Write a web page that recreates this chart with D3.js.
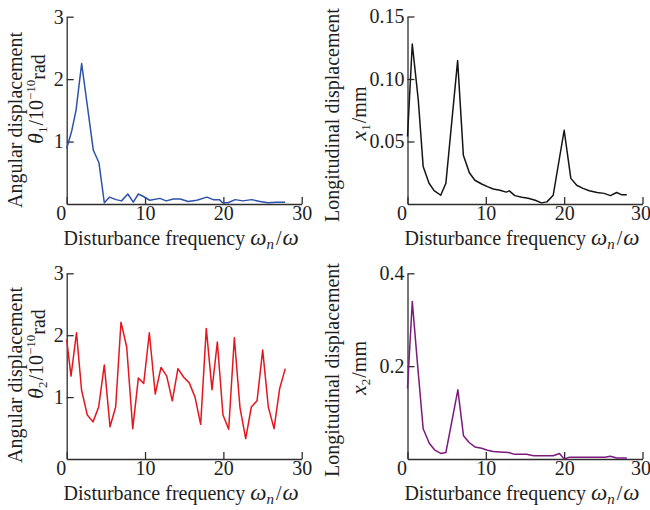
<!DOCTYPE html>
<html>
<head>
<meta charset="utf-8">
<script src="https://cdn.jsdelivr.net/npm/d3@7"></script>
<style>
  body { margin: 0; background: #fff; }
  text { font-family: "Liberation Serif", "Times New Roman", serif; }
</style>
</head>
<body>
<svg id="canvas" width="650" height="510"></svg>
<script>
"use strict";

// --- data (x = disturbance frequency ratio) ---
const theta1Freq = [0, 0.64, 1.19, 1.91, 3.4, 4.12, 4.8, 5.45, 6.3, 7.0, 7.8, 8.5, 9.15, 9.8, 10.6, 11.9, 12.7,
  13.6, 14.5, 15.5, 16.6, 17.9, 18.7, 19.5, 19.9, 20.6, 21.5, 22.5, 23.6, 24.7, 25.7, 26.8, 27.9];
const theta1Vals = [0.89, 1.17, 1.5, 2.25, 0.86, 0.66, 0.02, 0.11, 0.07, 0.05, 0.16, 0.03, 0.16, 0.12, 0.06, 0.09, 0.05,
  0.08, 0.08, 0.04, 0.06, 0.11, 0.07, 0.07, 0.02, 0.02, 0.07, 0.05, 0.07, 0.04, 0.02, 0.03, 0.03];

const x1Freq = [0, 0.61, 1.38, 2.0, 2.75, 3.4, 4.24, 4.9, 6.4, 7.13, 7.9, 8.6, 9.47, 10.2, 10.95, 11.8, 12.6, 13.0,
  13.7, 14.6, 15.4, 16.3, 17.1, 17.8, 18.6, 20.0, 20.85, 21.6, 22.4, 23.2, 24.2, 25.1, 25.9, 26.7, 27.3, 28.0];
const x1Vals = [0.054, 0.128, 0.083, 0.030, 0.0166, 0.0107, 0.007, 0.0166, 0.1147, 0.039, 0.025, 0.019, 0.016, 0.0139,
  0.012, 0.011, 0.0095, 0.0105, 0.0067, 0.0054, 0.0046, 0.003, 0.0009, 0.0017, 0.007, 0.059, 0.0205, 0.015, 0.0125,
  0.0106, 0.0092, 0.0085, 0.0067, 0.0092, 0.0075, 0.0075];

const theta2Freq = [0, 0.55, 1.25, 1.9, 2.63, 3.36, 4.08, 4.8, 5.53, 6.25, 6.93, 7.66, 8.43, 9.15, 9.83, 10.55, 11.3,
  12.04, 12.77, 13.48, 14.2, 14.94, 15.65, 16.38, 17.1, 17.82, 18.55, 19.23, 19.95, 20.68, 21.4, 22.12, 22.85, 23.57,
  24.3, 25.02, 25.74, 26.47, 27.19, 27.9];
const theta2Vals = [1.93, 1.34, 2.04, 1.11, 0.71, 0.60, 0.84, 1.52, 0.52, 0.84, 2.21, 1.81, 0.49, 1.31, 1.22, 2.04, 1.05,
  1.48, 1.34, 0.94, 1.46, 1.32, 1.23, 1.0, 0.56, 2.11, 1.12, 1.89, 0.71, 0.48, 1.96, 0.83, 0.33, 0.84,
  0.94, 1.76, 0.84, 0.49, 1.14, 1.46];

const x2Freq = [0, 0.61, 1.3, 2.0, 2.78, 3.5, 4.24, 4.9, 6.43, 7.15, 7.9, 8.6, 9.47, 10.2, 10.95, 11.8, 12.9, 13.7,
  15.2, 16.1, 17.4, 18.6, 19.4, 20.0, 20.7, 22.0, 23.7, 25.2, 25.9, 26.7, 28.0];
const x2Vals = [0.152, 0.339, 0.2, 0.065, 0.034, 0.019, 0.012, 0.014, 0.149, 0.05, 0.035, 0.026, 0.023, 0.019, 0.016,
  0.015, 0.014, 0.010, 0.010, 0.007, 0.007, 0.007, 0.012, 0, 0.004, 0.004, 0.004, 0.004, 0.006, 0.002, 0.002];

const xTicks = [0, 10, 20, 30];
const theta1Ticks = [1, 2, 3];
const x1Ticks = [0.05, 0.10, 0.15];
const theta2Ticks = [1, 2, 3];
const x2Ticks = [0.2, 0.4];

const panels = [
  { left: 66.7, top: 16.7, height: 187.3, yMax: 3, ticks: theta1Ticks, fmt: d3.format("d"),
    freq: theta1Freq, vals: theta1Vals, color: "#2d52ac", kind: "theta", sub: "1",
    l1: { x: 21.5, y: 120 }, l2: { x: 43, y: 99 } },
  { left: 407.5, top: 16.5, height: 187.5, yMax: 0.15, ticks: x1Ticks, fmt: d3.format(".2f"),
    freq: x1Freq, vals: x1Vals, color: "#141414", kind: "x", sub: "1",
    l1: { x: 339, y: 115 }, l2: { x: 366, y: 113.5 } },
  { left: 66.7, top: 273.3, height: 185.7, yMax: 3, ticks: theta2Ticks, fmt: d3.format("d"),
    freq: theta2Freq, vals: theta2Vals, color: "#e5161d", kind: "theta", sub: "2",
    l1: { x: 21.5, y: 375 }, l2: { x: 43, y: 354 } },
  { left: 407.5, top: 273.3, height: 185.7, yMax: 0.4, ticks: x2Ticks, fmt: d3.format(".1f"),
    freq: x2Freq, vals: x2Vals, color: "#7c1b7e", kind: "x", sub: "2",
    l1: { x: 339, y: 370 }, l2: { x: 366, y: 368 } }
];

const width = 235;
const axisColor = "#2e2e2e";
const svg = d3.select("#canvas");

panels.forEach(p => {
  const g = svg.append("g").attr("transform", `translate(${p.left},${p.top})`);
  const x = d3.scaleLinear().domain([0, 30]).range([0, width]);
  const y = d3.scaleLinear().domain([0, p.yMax]).range([p.height, 0]);

  // x axis, ticks pointing inward
  const gx = g.append("g")
    .attr("transform", `translate(0,${p.height})`)
    .call(d3.axisBottom(x).tickValues(xTicks).tickSize(-7).tickSizeOuter(0).tickPadding(2));
  gx.selectAll("text").filter(d => d === 0).attr("x", -6);
  if (p.left > 300) gx.selectAll("text").filter(d => d === 30).attr("x", -2);

  const gy = g.append("g")
    .call(d3.axisLeft(y).tickValues(p.ticks).tickSize(-7).tickSizeOuter(0).tickPadding(3).tickFormat(p.fmt));

  [gx, gy].forEach(a => {
    a.attr("color", axisColor).attr("font-size", 20).attr("font-family", "Liberation Serif, serif");
    a.selectAll("path, line").attr("stroke-width", 1.3);
    a.selectAll("text").attr("fill", "#1e1e1e");
  });

  const line = d3.line().x(d => x(d[0])).y(d => y(d[1]));
  g.append("path")
    .datum(d3.zip(p.freq, p.vals))
    .attr("fill", "none")
    .attr("stroke", p.color)
    .attr("stroke-width", 1.5)
    .attr("stroke-linejoin", "round")
    .attr("d", line);

  // x label
  const xl = svg.append("text")
    .attr("x", p.left + width / 2 - 3)
    .attr("y", p.top + p.height + 41)
    .attr("text-anchor", "middle")
    .attr("font-size", 20)
    .attr("fill", "#1e1e1e");
  xl.append("tspan").text("Disturbance frequency ");
  xl.append("tspan").attr("font-style", "italic").attr("font-size", 23).text("\u03c9");
  xl.append("tspan").attr("font-style", "italic").attr("font-size", 15).attr("dy", 4).text("n");
  xl.append("tspan").attr("dy", -4).attr("dx", 2).text("/");
  xl.append("tspan").attr("font-style", "italic").attr("font-size", 23).attr("dx", 1).text("\u03c9");

  // y label, two rotated lines
  svg.append("text")
    .attr("transform", `translate(${p.l1.x},${p.l1.y}) rotate(-90)`)
    .attr("text-anchor", "middle")
    .attr("font-size", 20)
    .attr("fill", "#1e1e1e")
    .text(p.kind === "theta" ? "Angular displacement" : "Longitudinal displacement");

  const l2 = svg.append("text")
    .attr("transform", `translate(${p.l2.x},${p.l2.y}) rotate(-90)`)
    .attr("text-anchor", "middle")
    .attr("font-size", 20)
    .attr("fill", "#1e1e1e");
  if (p.kind === "theta") {
    l2.append("tspan").attr("font-style", "italic").attr("font-size", 22).text("\u03b8");
    l2.append("tspan").attr("font-size", 13).attr("dy", 4).text(p.sub);
    l2.append("tspan").attr("dy", -4).attr("dx", 1).text("/10");
    l2.append("tspan").attr("font-size", 13).attr("dy", -8).text("\u221210");
    l2.append("tspan").attr("dy", 10).text("rad");
  } else {
    l2.append("tspan").attr("font-style", "italic").attr("font-size", 22).text("x");
    l2.append("tspan").attr("font-size", 13).attr("dy", 4).text(p.sub);
    l2.append("tspan").attr("dy", -4).attr("dx", 1).text("/mm");
  }
});
</script>
</body>
</html>
